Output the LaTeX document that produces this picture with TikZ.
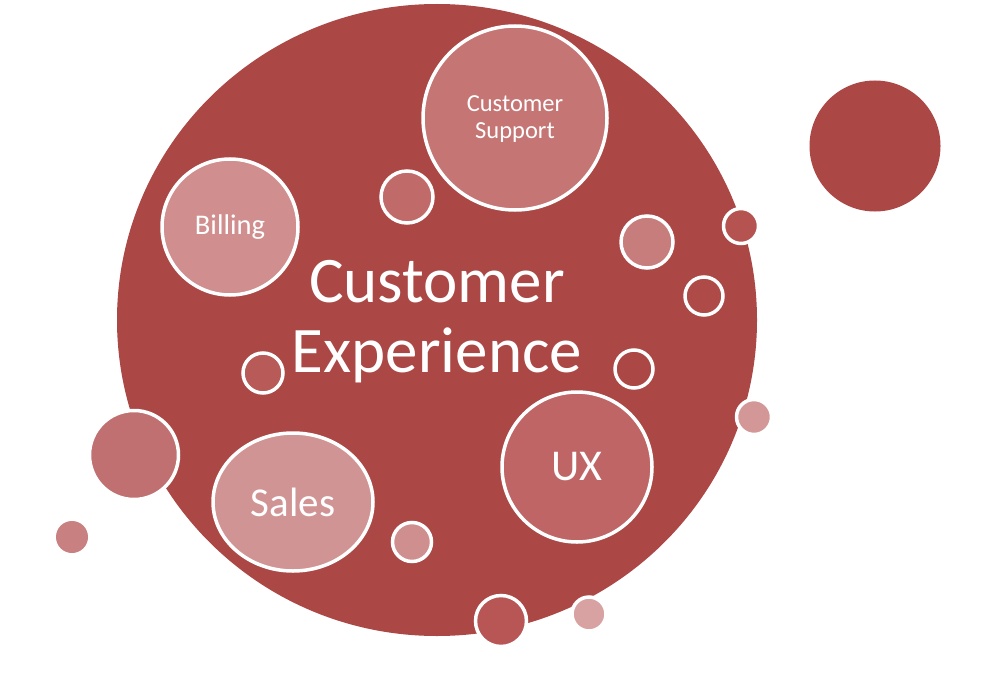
\documentclass[tikz,border=0pt]{standalone}
\usepackage{fontspec}
\setmainfont{Carlito}
\usetikzlibrary{shapes.geometric}
\definecolor{bigred}{HTML}{AB4745}
\definecolor{cSupport}{HTML}{C47574}
\definecolor{cBilling}{HTML}{D08E8E}
\definecolor{cSales}{HTML}{D19494}
\definecolor{cUX}{HTML}{BF6565}
\definecolor{cA}{HTML}{C06A69}
\definecolor{cB}{HTML}{C77D7C}
\definecolor{cC}{HTML}{B55351}
\definecolor{cD}{HTML}{D39797}
\definecolor{cE}{HTML}{C07070}
\definecolor{cF}{HTML}{C98080}
\definecolor{cG}{HTML}{CF8F8F}
\definecolor{cH}{HTML}{B85555}
\definecolor{cI}{HTML}{D9A2A2}
\definecolor{cJ}{HTML}{B85A58}
\definecolor{cK}{HTML}{AE4A48}
\tikzset{
  bub/.style={circle, inner sep=0pt, draw=white, line width=3.5pt, text=white, align=center},
  plain/.style={circle, inner sep=0pt, draw=none},
  bigtext/.style={text=white, font=\fontsize{65}{70}\selectfont, anchor=base, inner sep=0pt}
}
\begin{document}
\begin{tikzpicture}[x=1pt,y=-1pt]
\useasboundingbox (0,0) rectangle (1000,695);
% main bubble
\node[ellipse, fill=bigred, inner sep=0pt, minimum width=640pt, minimum height=632pt] (main) at (437,320) {};
% labelled bubbles
\node[bub, fill=cSupport, minimum size=184pt, text depth=2pt, font=\fontsize{24.5}{27.5}\selectfont] (support) at (515,118) {Customer\\Support};
\node[bub, fill=cBilling, minimum size=136pt, font=\fontsize{28.5}{31}\selectfont] (billing) at (230,227) {Billing};
\node[bub, fill=cUX, minimum size=150pt, font=\fontsize{44}{48}\selectfont] (ux) at (577,467) {UX};
\node[bub, ellipse, fill=cSales, minimum width=160pt, minimum height=138pt, font=\fontsize{41}{45}\selectfont] (sales) at (293,502) {Sales};
% small bubbles
\node[bub, fill=cA, minimum size=52pt] (s1) at (407,197) {};
\node[bub, fill=cB, minimum size=52pt] (s2) at (647,242) {};
\node[bub, fill=cC, minimum size=35pt] (s3) at (741,226) {};
\node[bub, fill=cK, minimum size=38pt] (s4) at (704,296) {};
\node[bub, fill=bigred, minimum size=38pt] (s5) at (634,369) {};
\node[bub, fill=cJ, minimum size=40pt] (s6) at (263,373) {};
\node[bub, fill=cD, minimum size=35pt] (s7) at (754,417) {};
\node[bub, fill=cE, minimum size=89pt] (s8) at (134,455) {};
\node[plain, fill=cF, minimum size=32pt] (s9) at (72,537) {};
\node[bub, fill=cG, minimum size=39pt] (s10) at (412,542) {};
\node[bub, fill=cH, minimum size=51pt] (s11) at (501,621) {};
\node[bub, fill=cI, minimum size=34pt] (s12) at (589,614) {};
% outside bubble
\node[plain, fill=bigred, minimum size=131pt] (out) at (875,146) {};
% title
\node[bigtext] (t1) at (437,302) {Customer};
\node[bigtext] (t2) at (437,372) {Experience};
\end{tikzpicture}
\end{document}
